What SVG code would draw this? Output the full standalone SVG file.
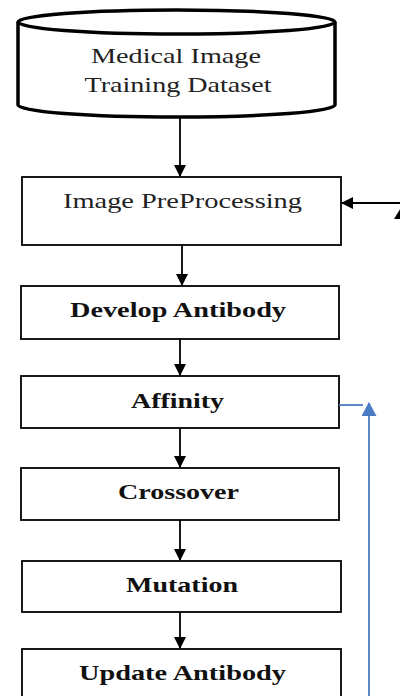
<svg xmlns="http://www.w3.org/2000/svg" width="400" height="696" viewBox="0 0 400 696">
<style>
.box{fill:#fff;stroke:#000;stroke-width:1.8}
.t{font-family:"Liberation Serif","Times New Roman",serif;font-size:22px;fill:#222;text-anchor:middle}
.b{font-weight:bold;fill:#111}
.c{stroke:#000;stroke-width:1.8;fill:none}
.blue{stroke:#4A7CC4;stroke-width:1.8;fill:none}
</style>
<defs>
<marker id="ah" markerWidth="12" markerHeight="12" refX="11" refY="6" orient="auto" markerUnits="userSpaceOnUse">
<path d="M0,0 L12,6 L0,12 Z" fill="#000"/>
</marker>
<marker id="ahb" markerWidth="14" markerHeight="15" refX="13" refY="7.5" orient="auto" markerUnits="userSpaceOnUse">
<path d="M0,0 L14,7.5 L0,15 Z" fill="#4A7CC4"/>
</marker>
</defs>
<g id="dataset">
<path d="M18,22 L18,105 A158.5,12 0 0 0 335,105 L335,22" fill="#fff" stroke="#000" stroke-width="3.5"/>
<ellipse cx="176.5" cy="22" rx="158.5" ry="12" fill="#fff" stroke="#000" stroke-width="3.5"/>
<text class="t" x="176" y="63" textLength="170" lengthAdjust="spacingAndGlyphs">Medical Image</text>
<text class="t" x="178" y="92" textLength="187" lengthAdjust="spacingAndGlyphs">Training Dataset</text>
</g>
<g id="preprocessing">
<rect class="box" x="22" y="177" width="319" height="68"/>
<text class="t" x="182.5" y="208" textLength="239" lengthAdjust="spacingAndGlyphs">Image PreProcessing</text>
</g>
<g id="develop">
<rect class="box" x="21" y="286" width="318" height="53"/>
<text class="t b" x="178" y="317" textLength="216" lengthAdjust="spacingAndGlyphs">Develop Antibody</text>
</g>
<g id="affinity">
<rect class="box" x="21" y="376" width="318" height="52"/>
<text class="t b" x="177.5" y="408" textLength="93" lengthAdjust="spacingAndGlyphs">Affinity</text>
</g>
<g id="crossover">
<rect class="box" x="21" y="468" width="318" height="52"/>
<text class="t b" x="178.5" y="499" textLength="121" lengthAdjust="spacingAndGlyphs">Crossover</text>
</g>
<g id="mutation">
<rect class="box" x="22" y="561" width="319" height="51"/>
<text class="t b" x="182" y="592" textLength="112" lengthAdjust="spacingAndGlyphs">Mutation</text>
</g>
<g id="update">
<rect class="box" x="22" y="649" width="319" height="60"/>
<text class="t b" x="182.5" y="680" textLength="207" lengthAdjust="spacingAndGlyphs">Update Antibody</text>
</g>
<g id="connectors">
<line class="c" x1="180" y1="117" x2="180" y2="176" marker-end="url(#ah)"/>
<line class="c" x1="182" y1="245" x2="182" y2="285" marker-end="url(#ah)"/>
<line class="c" x1="180" y1="339" x2="180" y2="375" marker-end="url(#ah)"/>
<line class="c" x1="180" y1="428" x2="180" y2="467" marker-end="url(#ah)"/>
<line class="c" x1="180" y1="520" x2="180" y2="560" marker-end="url(#ah)"/>
<line class="c" x1="180" y1="612" x2="180" y2="648" marker-end="url(#ah)"/>
<line class="c" x1="402" y1="203" x2="342" y2="203" marker-end="url(#ah)"/>
<polygon points="394,219 402,206 410,219" fill="#000"/>
<line class="blue" x1="339" y1="405" x2="363" y2="405"/>
<line class="blue" x1="369" y1="700" x2="369" y2="403" marker-end="url(#ahb)"/>
</g>
</svg>
